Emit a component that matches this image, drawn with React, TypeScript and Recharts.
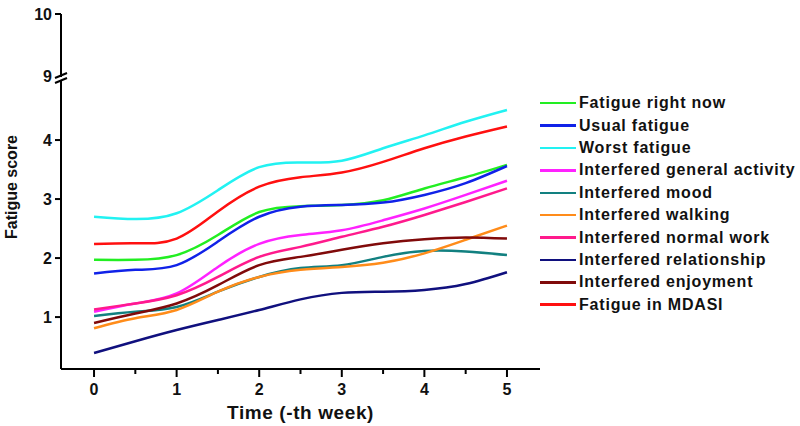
import React from 'react';
import { LineChart, Line, XAxis, YAxis, Legend } from 'recharts';

// weeks, read at half-week steps so the spline shape follows the picture
const weeks = [0, 0.5, 1, 1.5, 2, 2.5, 3, 3.5, 4, 4.5, 5];

const fatigueNow = [1.97, 1.97, 2.05, 2.39, 2.78, 2.88, 2.9, 2.98, 3.18, 3.37, 3.58];
const usualFatigue = [1.74, 1.8, 1.88, 2.28, 2.7, 2.87, 2.9, 2.94, 3.07, 3.27, 3.56];
const worstFatigue = [2.7, 2.66, 2.76, 3.15, 3.54, 3.62, 3.65, 3.86, 4.08, 4.31, 4.51];
const generalActivity = [1.09, 1.23, 1.4, 1.85, 2.24, 2.39, 2.47, 2.64, 2.84, 3.07, 3.31];
const mood = [1.02, 1.09, 1.17, 1.43, 1.68, 1.83, 1.88, 2.02, 2.12, 2.11, 2.05];
const walking = [0.81, 0.98, 1.12, 1.43, 1.68, 1.8, 1.85, 1.92, 2.08, 2.31, 2.55];
const normalWork = [1.13, 1.23, 1.37, 1.68, 2.02, 2.19, 2.36, 2.53, 2.73, 2.95, 3.18];
const relationship = [0.39, 0.59, 0.78, 0.95, 1.12, 1.3, 1.41, 1.43, 1.46, 1.56, 1.76];
const enjoyment = [0.9, 1.06, 1.23, 1.54, 1.88, 2.02, 2.14, 2.25, 2.32, 2.35, 2.33];
const mdasi = [2.24, 2.25, 2.33, 2.79, 3.21, 3.37, 3.45, 3.63, 3.86, 4.06, 4.23];

const series = [
  { key: 'now', name: 'Fatigue right now', color: '#22ee22', values: fatigueNow },
  { key: 'usual', name: 'Usual fatigue', color: '#1022e8', values: usualFatigue },
  { key: 'worst', name: 'Worst fatigue', color: '#22f2f2', values: worstFatigue },
  { key: 'general', name: 'Interfered general activity', color: '#ff22ff', values: generalActivity },
  { key: 'mood', name: 'Interfered mood', color: '#128080', values: mood },
  { key: 'walking', name: 'Interfered walking', color: '#ff8c1a', values: walking },
  { key: 'work', name: 'Interfered normal work', color: '#ff1a8c', values: normalWork },
  { key: 'relation', name: 'Interfered relationship', color: '#10107e', values: relationship },
  { key: 'enjoy', name: 'Interfered enjoyment', color: '#800a0a', values: enjoyment },
  { key: 'mdasi', name: 'Fatigue in MDASI', color: '#ff1010', values: mdasi },
];

// y axis is broken between 4 and 9
const yTickLabels = [1, 2, 3, 4, 9, 10];
const BREAK_AT = 9;
const toAxis = (v: number) => (v < BREAK_AT ? v : 5.085 + (v - BREAK_AT) * 1.051);
const xTicks = [0, 0.5, 1, 1.5, 2, 2.5, 3, 3.5, 4, 4.5, 5];

const data = weeks.map((w, i) => {
  const row: Record<string, number> = { week: w };
  series.forEach(s => { row[s.key] = s.values[i]; });
  return row;
});

const FONT = '"Liberation Sans", Arial, sans-serif';

const XTick = (props: any) => {
  const { x, y, payload } = props;
  const major = Number.isInteger(payload.value);
  return (
    <g>
      <line x1={x} x2={x} y1={y} y2={y + (major ? 8 : 5)} stroke="#000" strokeWidth={2} />
      {major && (
        <text x={x} y={y + 26} textAnchor="middle" fontFamily={FONT} fontWeight="bold" fontSize={16} fill="#111">
          {payload.value}
        </text>
      )}
    </g>
  );
};

const YTick = (props: any) => {
  const { x, y, payload, index } = props;
  const label = yTickLabels[index];
  const isBreak = label === BREAK_AT;
  return (
    <g>
      {isBreak ? (
        <g>
          <rect x={x - 3} y={y + 1} width={6} height={4} fill="#fff" />
          <line x1={x - 6} y1={y + 2} x2={x + 6} y2={y - 3} stroke="#000" strokeWidth={2} />
          <line x1={x - 6} y1={y + 7} x2={x + 6} y2={y + 2} stroke="#000" strokeWidth={2} />
        </g>
      ) : (
        <line x1={x} x2={x - 6} y1={y} y2={y} stroke="#000" strokeWidth={2} />
      )}
      <text x={x - 9} y={y + 6} textAnchor="end" fontFamily={FONT} fontWeight="bold" fontSize={16} fill="#111">
        {label ?? payload.value}
      </text>
    </g>
  );
};

const YTitle = () => (
  <text
    x={0}
    y={0}
    transform="translate(17 187) rotate(-90)"
    textAnchor="middle"
    fontFamily={FONT}
    fontWeight="bold"
    fontSize={16}
    fill="#111"
  >
    Fatigue score
  </text>
);

const LegendBox = () => (
  <div style={{ fontFamily: FONT, fontWeight: 'bold', fontSize: 16, letterSpacing: 0.8, color: '#111' }}>
    {series.map(s => (
      <div key={s.key} style={{ display: 'flex', alignItems: 'center', height: 22.4, whiteSpace: 'nowrap' }}>
        <div style={{ width: 36, height: 2.5, background: s.color, marginRight: 3 }} />
        <span>{s.name}</span>
      </div>
    ))}
  </div>
);

export default function App() {
  return (
    <div style={{ position: 'absolute', left: 0, top: 0, width: 800, height: 426, background: '#fff' }}>
      <LineChart width={800} height={426} data={data} margin={{ top: 14, right: 260, bottom: 0, left: 0 }}>
        <XAxis
          dataKey="week"
          type="number"
          domain={[-0.4, 5.4]}
          ticks={xTicks}
          tick={<XTick />}
          tickLine={false}
          tickSize={0}
          tickMargin={0}
          height={57}
          axisLine={{ stroke: '#000', strokeWidth: 2 }}
          interval={0}
          label={{
            value: 'Time (-th week)',
            position: 'insideBottom',
            offset: 7,
            style: { fontFamily: FONT, fontWeight: 'bold', fontSize: 19, letterSpacing: 0.6, fill: '#111' },
          }}
        />
        <YAxis
          type="number"
          domain={[0.12, toAxis(10)]}
          ticks={yTickLabels.map(toAxis)}
          tick={<YTick />}
          tickLine={false}
          tickSize={0}
          tickMargin={0}
          width={61}
          axisLine={{ stroke: '#000', strokeWidth: 2 }}
          interval={0}
          allowDataOverflow
          label={<YTitle />}
        />
        <Legend
          layout="vertical"
          align="center"
          verticalAlign="middle"
          content={<LegendBox />}
          wrapperStyle={{ left: 540, top: 92, width: 260 }}
        />
        {series.map(s => (
          <Line
            key={s.key}
            dataKey={s.key}
            name={s.name}
            type="natural"
            stroke={s.color}
            strokeWidth={2.5}
            dot={false}
            activeDot={false}
            isAnimationActive={false}
          />
        ))}
      </LineChart>
    </div>
  );
}
